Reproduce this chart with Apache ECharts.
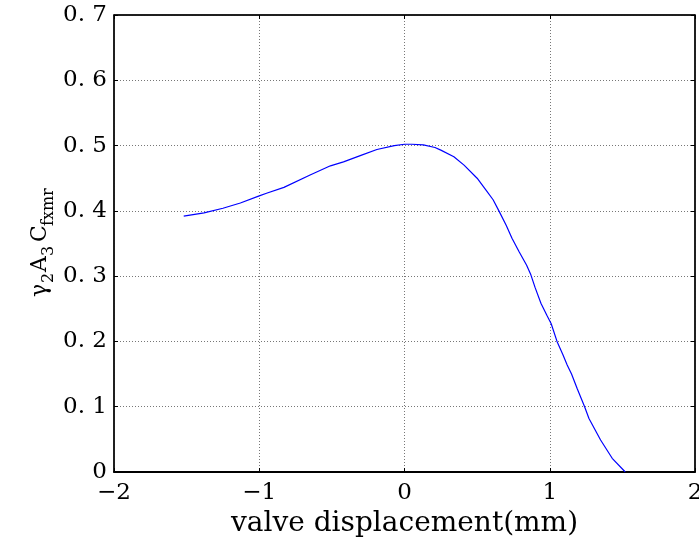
<!DOCTYPE html>
<html>
<head>
<meta charset="utf-8">
<script src="https://cdn.jsdelivr.net/npm/echarts@6/dist/echarts.min.js"></script>
<style>html,body{margin:0;padding:0;background:#fff}#c{width:699px;height:548px}</style>
</head>
<body>
<div id="c"></div>
<script>
var xValues = [-1.52,-1.38,-1.25,-1.13,-1.0,-0.95,-0.83,-0.65,-0.51,-0.42,-0.30,-0.19,-0.07,0.0,0.05,0.13,0.21,0.25,0.34,0.41,0.50,0.56,0.61,0.65,0.70,0.74,0.79,0.84,0.87,0.90,0.94,0.98,1.01,1.05,1.09,1.12,1.15,1.19,1.24,1.27,1.35,1.43,1.52];
var yValues = [0.392,0.397,0.404,0.412,0.423,0.427,0.436,0.455,0.469,0.475,0.485,0.494,0.500,0.502,0.502,0.501,0.497,0.493,0.483,0.470,0.450,0.432,0.417,0.400,0.378,0.358,0.337,0.317,0.302,0.282,0.258,0.240,0.227,0.200,0.180,0.164,0.150,0.127,0.100,0.082,0.049,0.021,0.0];
var xTickLabels = ['\u22122','\u22121','0','1','2'];
var yTickLabels = ['0','0. 1','0. 2','0. 3','0. 4','0. 5','0. 6','0. 7'];
var xTitle = 'valve displacement(mm)';

var points = xValues.map(function (x, i) { return [x, yValues[i]]; });
var FONT = 'DejaVu Serif';
var chart = echarts.init(document.getElementById('c'), null, {renderer: 'canvas'});
var splitStyle = {show: true, lineStyle: {color: '#777', type: [1, 2], width: 1}};
var tickIn = {show: true, inside: true, length: 4, lineStyle: {color: '#000'}};
chart.setOption({
  animation: false,
  backgroundColor: '#fff',
  grid: {left: 114, right: 4, top: 15, bottom: 76, show: true, borderColor: '#000', borderWidth: 1,
    containLabel: false, outerBoundsMode: 'none'},
  xAxis: [{
    type: 'value', min: -2, max: 2, interval: 1, position: 'bottom',
    axisLine: {show: true, onZero: false, lineStyle: {color: '#000', width: 2}},
    axisTick: tickIn,
    splitLine: splitStyle,
    axisLabel: {color: '#000', fontFamily: FONT, fontSize: 23, margin: 10,
      formatter: function (v) { return xTickLabels[Math.round(v + 2)]; }},
    name: xTitle, nameLocation: 'middle', nameGap: 31,
    nameTextStyle: {color: '#000', fontFamily: FONT, fontSize: 28}
  }, {
    type: 'value', min: -2, max: 2, interval: 1, position: 'top',
    axisLine: {show: true, onZero: false, lineStyle: {color: '#000', width: 1.5}},
    axisTick: tickIn, axisLabel: {show: false}, splitLine: {show: false}
  }],
  yAxis: [{
    type: 'value', min: 0, max: 0.7, interval: 0.1, position: 'left',
    axisLine: {show: true, onZero: false, lineStyle: {color: '#000', width: 1.5}},
    axisTick: tickIn,
    splitLine: splitStyle,
    axisLabel: {color: '#000', fontFamily: FONT, fontSize: 23, margin: 7,
      formatter: function (v) { return yTickLabels[Math.round(v * 10)]; }}
  }, {
    type: 'value', min: 0, max: 0.7, interval: 0.1, position: 'right',
    axisLine: {show: true, onZero: false, lineStyle: {color: '#000', width: 1.5}},
    axisTick: tickIn, axisLabel: {show: false}, splitLine: {show: false}
  }],
  graphic: [{
    type: 'group', x: 40, y: 244, rotation: Math.PI / 2,
    children: [
      {type: 'text', x: -53, y: 0, style: {text: '\u03b3', fontFamily: FONT, fontSize: 22, fill: '#000', verticalAlign: 'middle', align: 'left'}},
      {type: 'text', x: -39, y: 9, style: {text: '2', fontFamily: FONT, fontSize: 16, fill: '#000', verticalAlign: 'middle', align: 'left'}},
      {type: 'text', x: -28, y: 0, style: {text: 'A', fontFamily: FONT, fontSize: 22, fill: '#000', verticalAlign: 'middle', align: 'left'}},
      {type: 'text', x: -12, y: 9, style: {text: '3', fontFamily: FONT, fontSize: 16, fill: '#000', verticalAlign: 'middle', align: 'left'}},
      {type: 'text', x: 2, y: 0, style: {text: 'C', fontFamily: FONT, fontSize: 22, fill: '#000', verticalAlign: 'middle', align: 'left'}},
      {type: 'text', x: 18, y: 9, style: {text: 'fxmr', fontFamily: FONT, fontSize: 16, fill: '#000', verticalAlign: 'middle', align: 'left'}}
    ]
  }],
  series: [{
    type: 'line', xAxisIndex: 0, yAxisIndex: 0, data: points,
    showSymbol: false, symbol: 'none', smooth: false,
    lineStyle: {color: '#0000ff', width: 1.2}
  }]
});
</script>
</body>
</html>
